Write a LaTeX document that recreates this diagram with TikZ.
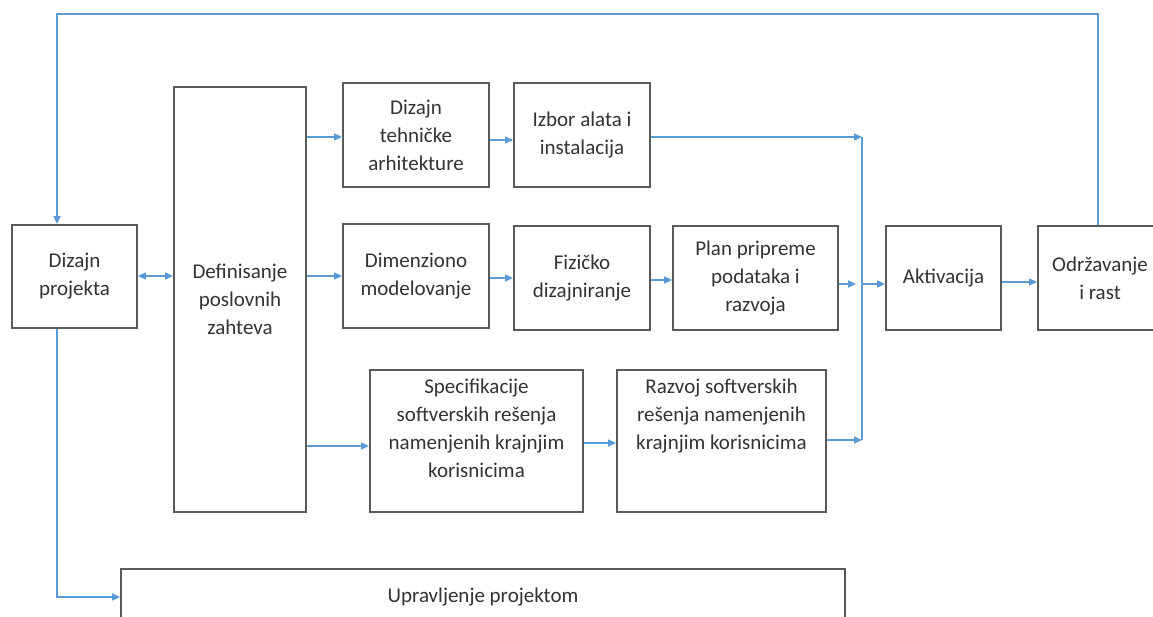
\documentclass[tikz,border=0pt]{standalone}
\usepackage{fontspec}
\setmainfont{Carlito}
\usetikzlibrary{arrows.meta}
\definecolor{flow}{HTML}{5B9BD5}
\definecolor{frame}{HTML}{5A5A5A}
\definecolor{ink}{HTML}{333333}
\tikzset{
  box/.style={draw=frame, line width=1.8pt, fill=white, inner sep=2pt,
    align=center, text=ink, font=\fontsize{21}{28}\selectfont},
  txt/.style={align=center, text=ink, inner sep=0pt, font=\fontsize{21}{28}\selectfont},
  flowline/.style={draw=flow, line width=1.6pt},
  arr/.style={flowline, -{Triangle[length=8pt,width=7pt]}},
  darr/.style={flowline, {Triangle[length=8pt,width=7pt]}-{Triangle[length=8pt,width=7pt]}}
}
\begin{document}
\begin{tikzpicture}[x=1pt,y=-1pt]
\useasboundingbox (0,0) rectangle (1153,617);
\begin{scope}
\clip (0,0) rectangle (1153,617);

% process boxes
\node[box, minimum width=125pt, minimum height=103pt] (dp) at (74.5,276.5) {Dizajn\\projekta};
\node[box, minimum width=132pt, minimum height=425pt] (def) at (240,299.5) {Definisanje\\poslovnih\\zahteva};
\node[box, minimum width=146pt, minimum height=104pt] (dta) at (416,135) {Dizajn\\tehničke\\arhitekture};
\node[box, minimum width=136pt, minimum height=104pt] (izb) at (582,135) {Izbor alata i\\instalacija};
\node[box, minimum width=146pt, minimum height=104pt] (dim) at (416,276) {Dimenziono\\modelovanje};
\node[box, minimum width=136pt, minimum height=104pt] (fiz) at (582,278) {Fizičko\\dizajniranje};
\node[box, minimum width=165pt, minimum height=104pt] (plan) at (755.5,278) {Plan pripreme\\podataka i\\razvoja};
\node[box, minimum width=115pt, minimum height=104pt] (akt) at (943.5,278) {Aktivacija};
\node[box, minimum width=124pt, minimum height=104pt] (odr) at (1100,278) {Održavanje\\i rast};

% boxes whose text sits near the top
\node[box, minimum width=213pt, minimum height=142pt] (spec) at (476.5,441) {};
\node[txt, anchor=north] (spect) at ([yshift=-10pt]spec.north) {Specifikacije\\softverskih rešenja\\namenjenih krajnjim\\korisnicima};
\node[box, minimum width=209pt, minimum height=142pt] (raz) at (721.5,441) {};
\node[txt, anchor=north] (razt) at ([yshift=-10pt]raz.north) {Razvoj softverskih\\rešenja namenjenih\\krajnjim korisnicima};

\node[box, minimum width=724pt, minimum height=56pt] (upr) at (483,597) {Upravljenje projektom};

% junction on the collecting line
\coordinate (jt) at (862,137);
\coordinate (jm) at (862,284);
\coordinate (jb) at (862,440);

% connectors
\draw[darr] (dp.east |- 0,276) -- (def.west |- 0,276);
\draw[arr] (def.east |- 0,137) -- (dta.west |- 0,137);
\draw[arr] (def.east |- 0,276) -- (dim.west |- 0,276);
\draw[arr] (def.east |- 0,446) -- (spec.west |- 0,446);
\draw[arr] (dta.east |- 0,140) -- (izb.west |- 0,140);
\draw[arr] (dim.east |- 0,278) -- (fiz.west |- 0,278);
\draw[arr] (fiz.east |- 0,280) -- (plan.west |- 0,280);
\draw[arr] (spec.east |- 0,443) -- (raz.west |- 0,443);

\draw[arr] (izb.east |- jt) -- (jt);
\draw[arr] (plan.east |- jm) -- ([xshift=-6pt]jm);
\draw[arr] (raz.east |- jb) -- (jb);
\draw[flowline] (jt) -- (jb);
\draw[arr] (jm) -- (akt.west |- jm);

\draw[arr] (akt.east |- 0,282) -- (odr.west |- 0,282);

% feedback loop and management link
\draw[arr] (odr.north -| 1098,0) |- (57,14) -- (dp.north -| 57,0);
\draw[arr] (dp.south -| 57,0) |- (upr.west);
\end{scope}
\end{tikzpicture}
\end{document}
